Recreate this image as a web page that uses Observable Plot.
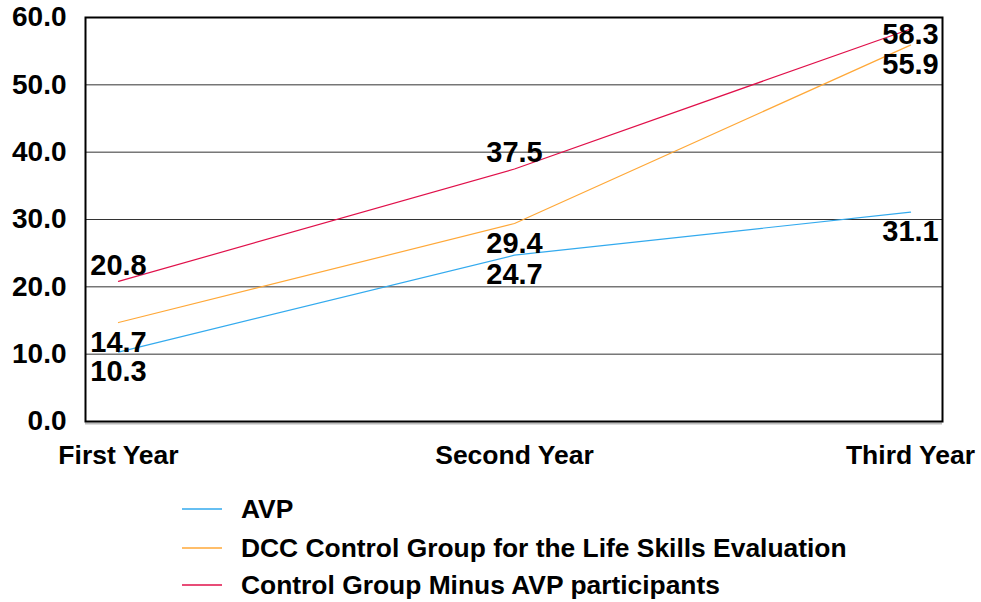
<!DOCTYPE html>
<html>
<head>
<meta charset="utf-8">
<script src="https://cdn.jsdelivr.net/npm/d3@7"></script>
<script src="https://cdn.jsdelivr.net/npm/@observablehq/plot@0.6"></script>
<style>
  html, body { margin: 0; padding: 0; background: #fff; }
  body { width: 981px; height: 602px; overflow: hidden; font-family: "Liberation Sans", Arial, sans-serif; }
  #legend { position: relative; height: 122px; }
  .row { position: absolute; left: 182px; display: flex; align-items: center; height: 30px; font-weight: bold; font-size: 26.4px; color: #000; white-space: nowrap; }
  .row svg { margin-right: 19px; display: block; }
</style>
</head>
<body>
<div id="chart"></div>
<div id="legend"></div>
<script>
const years = ["First Year", "Second Year", "Third Year"];
const seriesNames = [
  "AVP",
  "DCC Control Group for the Life Skills Evaluation",
  "Control Group Minus AVP participants"
];
const avp = [10.3, 24.7, 31.1];
const dcc = [14.7, 29.4, 55.9];
const ctrlMinus = [20.8, 37.5, 58.3];
const yTicks = [0, 10, 20, 30, 40, 50, 60];

const colors = ["#33aaee", "#ffa838", "#e0104a"];
const seriesValues = [avp, dcc, ctrlMinus];

const data = [];
seriesValues.forEach((vals, s) => {
  vals.forEach((v, i) => data.push({ series: seriesNames[s], s, i, year: years[i], value: v }));
});

// label vertical offsets (styling): most labels sit below their point
function labelDy(d) {
  if (d.s === 2) return d.i === 2 ? 6 : -16;
  return 20;
}

const fontFam = "'Liberation Sans', Arial, sans-serif";

const chart = Plot.plot({
  width: 981,
  height: 480,
  marginLeft: 85,
  marginRight: 39,
  marginTop: 17,
  marginBottom: 59,
  style: { fontFamily: fontFam, fontWeight: "bold", background: "#fff", overflow: "visible" },
  x: { type: "point", domain: years, padding: 0.08, label: null },
  y: { domain: [0, 60], label: null },
  color: { domain: seriesNames, range: colors },
  marks: [
    Plot.ruleY(yTicks, { stroke: "#333", strokeWidth: 1 }),
    Plot.ruleY([0], { stroke: "#bbb", strokeWidth: 2, dy: 2 }),
    Plot.frame({ stroke: "#000", strokeWidth: 2 }),
    Plot.axisY({ ticks: yTicks, tickSize: 0, tickPadding: 19, tickFormat: d => d.toFixed(1), fontSize: 28, fill: "#000" }),
    Plot.axisX({ tickSize: 0, tickPadding: 24, fontSize: 26.5, fill: "#000" }),
    Plot.line(data, { x: "year", y: "value", z: "series", stroke: "series", strokeWidth: 1.2 }),
    ...data.map(d => Plot.text([d], {
      x: "year", y: "value", text: d => d.value.toFixed(1),
      dy: labelDy(d), fontSize: 29, fontWeight: "bold", fill: "#000"
    }))
  ]
});
document.getElementById("chart").appendChild(chart);

const legend = document.getElementById("legend");
const rowCenters = [29, 68, 105];
seriesNames.forEach((name, k) => {
  const row = document.createElement("div");
  row.className = "row";
  row.style.top = (rowCenters[k] - 15) + "px";
  row.innerHTML = `<svg width="40" height="4"><line x1="0" x2="40" y1="2" y2="2" stroke="${colors[k]}" stroke-width="1.5"/></svg><span>${name}</span>`;
  legend.appendChild(row);
});
</script>
</body>
</html>
